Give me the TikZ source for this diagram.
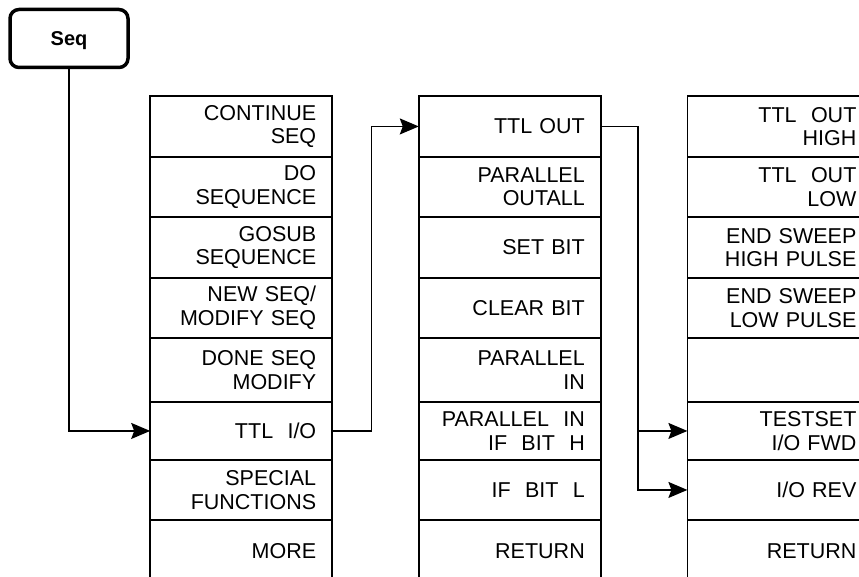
\documentclass[tikz,border=0pt]{standalone}
\usepackage{fontspec}
\setmainfont{Liberation Sans}
\usepackage{tikz}
\usetikzlibrary{arrows.meta}
\tikzset{
  % node options
  softkey/.style={rectangle,rounded corners=9pt,draw,line width=3.5pt,minimum width=118pt,minimum height=58pt,text depth=0pt,font=\fontsize{20}{24}\selectfont\bfseries},
  menukey/.style={rectangle,draw,line width=1.6pt,outer sep=0pt,minimum width=182pt,minimum height=60.5pt,text width=150pt,inner xsep=16pt,inner ysep=0pt,align=right,font=\fontsize{21.5}{23.5}\selectfont},
  widekey/.style={minimum width=185pt,text width=153pt},
  % path options
  link/.style={->,line width=1.4pt},
  >={Stealth[length=19pt,width=16pt,inset=3pt]},
}

\begin{document}
\begin{tikzpicture}[x=1pt,y=-1pt]
    \useasboundingbox (0,0) rectangle (859,577);
    \clip (0,0) rectangle (859,577);
    \node[softkey] (seq) at (69,38.5) {Seq};
    \matrix (menus) [anchor=north west,inner sep=0pt,row sep=-1.6pt,column sep=85pt,
      nodes={menukey},
      column 3/.style={nodes={widekey}},
      row 5/.style={nodes={minimum height=64pt}},
      row 6/.style={nodes={minimum height=57.5pt}},
      row 8/.style={nodes={minimum height=62pt}}] at (149.2,95.2) {
      \node (contseq) {CONTINUE\\SEQ}; & \node (ttlout) {TTL OUT}; & \node (outhigh) {TTL\ \ OUT\\HIGH}; \\
      \node (doseq) {DO\\SEQUENCE}; & \node (paraout) {PARALLEL\\OUTALL}; & \node (outlow) {TTL\ \ OUT\\LOW}; \\
      \node (gosub) {GOSUB\\SEQUENCE}; & \node (setbit) {SET BIT}; & \node (sweephigh) {END SWEEP\\HIGH PULSE}; \\
      \node (newseq) {NEW SEQ/\\MODIFY SEQ}; & \node (clearbit) {CLEAR BIT}; & \node (sweeplow) {END SWEEP\\LOW PULSE}; \\
      \node (doneseq) {DONE SEQ\\MODIFY}; & \node (parain) {PARALLEL\\IN}; & \node (blank) {}; \\
      \node (ttlio) {TTL\ \ I/O}; & \node (ifhigh) {PARALLEL\ \ IN\\IF\ \ BIT\ \ H}; & \node (testset) {TESTSET\\I/O FWD}; \\
      \node (special) {SPECIAL\\FUNCTIONS}; & \node (iflow) {IF\ \ BIT\ \ L}; & \node (iorev) {I/O REV}; \\
      \node (more) {MORE}; & \node (return) {RETURN}; & \node (returnio) {RETURN}; \\
    };
    \draw[link] (seq.south) |- (ttlio.west);
    \draw[link] (ttlio.east) -- ++(39pt,0) |- (ttlout.west);
    \coordinate (branch) at ([xshift=37pt]ttlout.east);
    \draw[link] (ttlout.east) -- (branch) |- (iorev.west);
    \draw[link] (branch |- testset.west) -- (testset.west);
  \end{tikzpicture}
\end{document}
